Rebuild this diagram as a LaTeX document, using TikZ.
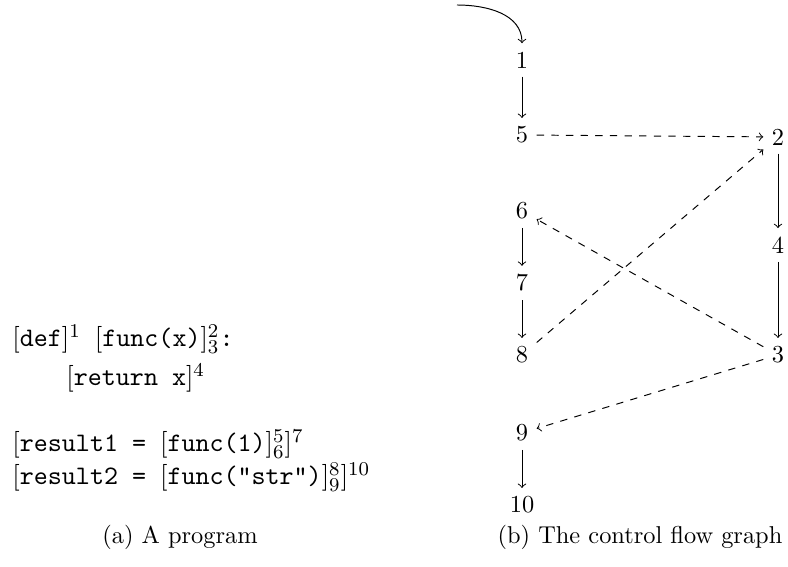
\documentclass[tikz,border=0pt]{standalone}
\usetikzlibrary{positioning}
\begin{document}
\begin{tikzpicture}[
    x=0.41pt, y=0.41pt,
    flow/.style={->},
    jump/.style={->, dashed},
    progline/.style={anchor=base west, inner sep=0pt, font=\fontsize{10.95}{13.6}\selectfont},
    caption/.style={anchor=base}
  ]
  \useasboundingbox (0,0) rectangle (788,567);
  % the program
  \node[progline] (def) at (12,220) {$[\texttt{def}]^1$\texttt{\ }$[\texttt{func(x)}]^2_3$\texttt{:}};
  \node[progline] (ret) at (66,181) {$[\texttt{return x}]^4$};
  \node[progline] (res1) at (12,115) {$[\texttt{result1 = }[\texttt{func(1)}]^5_6]^7$};
  \node[progline] (res2) at (12,82) {$[\texttt{result2 = }[\texttt{func("str")}]^8_9]^{10}$};
  \node[caption] (capa) at (180,23) {(a) A program};
  % the control flow graph
  \coordinate (start) at (457,562);
  \node (n1) at (522,507) {1};
  \node (n5) at (522,432) {5};
  \node (n2) at (778,430) {2};
  \node (n6) at (522,356) {6};
  \node (n4) at (778,322) {4};
  \node (n7) at (522,284) {7};
  \node (n8) at (522,212) {8};
  \node (n3) at (778,212) {3};
  \node (n9) at (522,134) {9};
  \node (n10) at (522,62) {10};
  \node[caption] (capb) at (640,23) {(b) The control flow graph};
  \draw[flow] (start) to[out=0, in=90] (n1);
  \draw[flow] (n1) -- (n5);
  \draw[jump] (n5) -- (n2);
  \draw[flow] (n2) -- (n4);
  \draw[flow] (n4) -- (n3);
  \draw[jump] (n3) -- (n6);
  \draw[flow] (n6) -- (n7);
  \draw[flow] (n7) -- (n8);
  \draw[jump] (n8) -- (n2);
  \draw[jump] (n3) -- (n9);
  \draw[flow] (n9) -- (n10);
\end{tikzpicture}
\end{document}
